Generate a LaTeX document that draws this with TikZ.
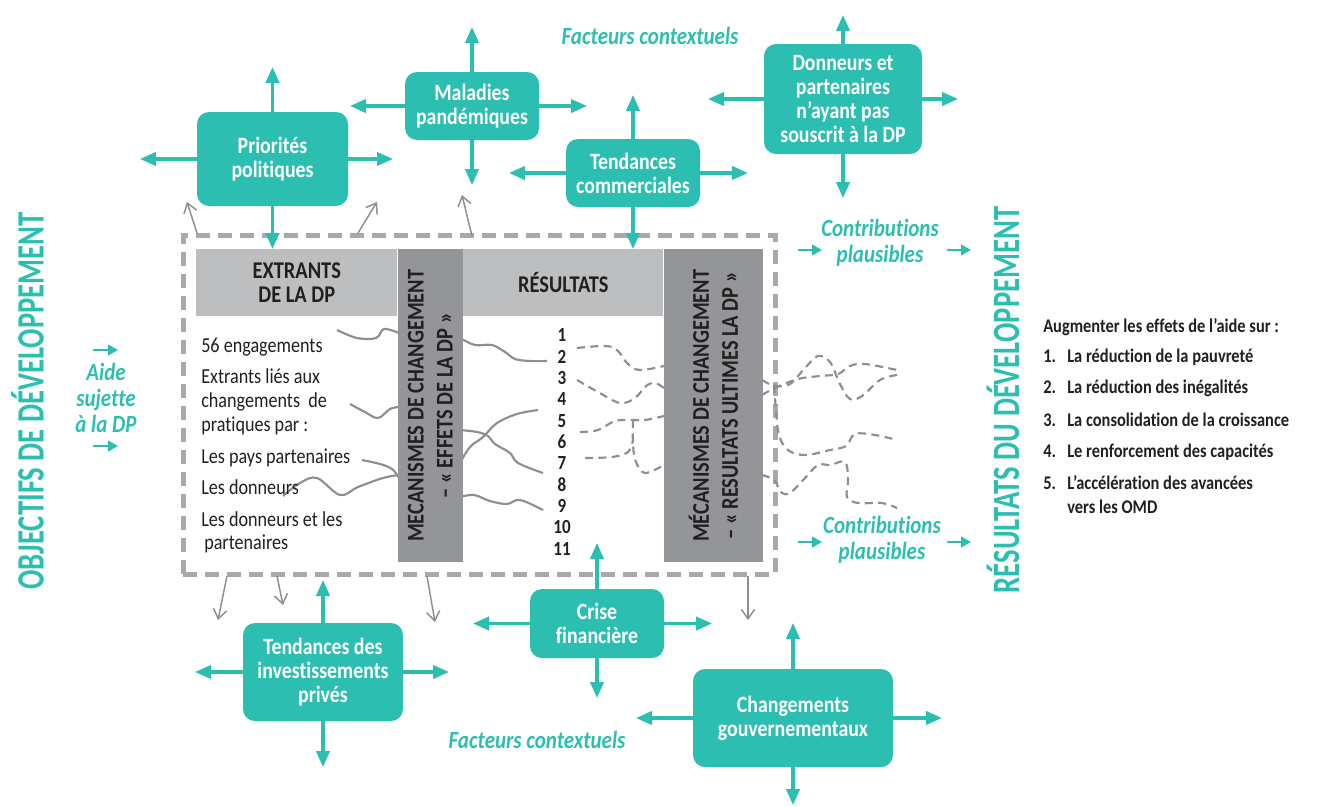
\documentclass[tikz,border=0pt]{standalone}
\usepackage{fontspec}
\setmainfont{Carlito}[FakeStretch=0.85, Ligatures=NoCommon]
\newfontfamily\titlefont{Carlito}[FakeStretch=0.74]
\usetikzlibrary{arrows.meta,positioning}

\definecolor{turq}{RGB}{44,191,177}
\definecolor{clair}{RGB}{188,190,192}
\definecolor{fonce}{RGB}{147,149,152}
\definecolor{cadregris}{RGB}{167,169,172}
\definecolor{fil}{RGB}{141,142,145}
\definecolor{encre}{RGB}{35,31,32}

\begin{document}
\begin{tikzpicture}[x=0.75pt, y=-0.75pt,
	facteur/.style={fill=turq, rounded corners=9pt, text=white, align=center, inner sep=2pt, font=\fontsize{17.5}{18}\selectfont\bfseries},
	fleche/.style={draw=turq, line width=2.3pt, -{Triangle[length=12pt,width=10pt]}},
	petite/.style={draw=turq, line width=1.6pt, -{Triangle[length=7.5pt,width=8pt]}},
	grise/.style={draw=fil, line width=1.1pt, -{Straight Barb[length=7pt,width=10pt]}},
	lien/.style={draw=fil, line width=1.6pt},
	tiret/.style={lien, dash pattern=on 6pt off 4pt},
	entete/.style={fill=clair, minimum height=50.25pt, anchor=north west, align=center, inner sep=0pt, text=encre, font=\fontsize{18}{18}\selectfont\bfseries},
	barre/.style={fill=fonce, minimum height=234.75pt, anchor=north west, inner sep=0pt},
	mecanisme/.style={rotate=90, align=center, text=encre, font=\fontsize{18}{21.75}\selectfont\bfseries},
	liste/.style={anchor=base west, inner sep=0pt, text=encre, font=\fontsize{16}{18}\selectfont},
	but/.style={anchor=base west, inner sep=0pt, text=encre, font=\fontsize{14.5}{16}\selectfont\bfseries},
	etiquette/.style={text=turq, align=center, inner sep=0pt, font=\fontsize{18.5}{19.5}\selectfont\bfseries\itshape},
	titre/.style={rotate=90, text=turq, inner sep=0pt, font=\titlefont\bfseries\fontsize{29}{30}\selectfont}]

	\useasboundingbox (0,0) rectangle (1325,807);

	% cadre de la DP
	\node[draw=cadregris, line width=3.75pt, dash pattern=on 10.5pt off 6pt, minimum width=444pt, minimum height=254.25pt, inner sep=0pt] (cadre) at (479,404.5) {};

	% liens entre extrants et resultats
	\draw[lien] plot[smooth, tension=0.6] coordinates {(337,330) (357,338) (376,338) (384,329) (399,333)};
	\draw[lien] plot[smooth, tension=0.6] coordinates {(350,404) (365,412) (378,418) (390,409) (399,407)};
	\draw[lien] plot[smooth, tension=0.6] coordinates {(362,460) (380,464) (392,469) (399,478)};
	\draw[lien] plot[smooth, tension=0.6] coordinates {(283,496) (300,483) (317,478) (340,495) (358,487) (383,478) (399,475)};
	\draw[lien] plot[smooth, tension=0.6] coordinates {(460,338) (475,345) (492,345) (505,352) (515,359) (530,361) (547,361)};
	\draw[lien] plot[smooth, tension=0.6] coordinates {(460,430) (477,432) (488,436) (495,444) (510,453) (518,463) (543,473)};
	\draw[lien] plot[smooth, tension=0.6] coordinates {(460,463) (470,447) (483,437) (497,423) (517,414) (538,410)};
	\draw[lien] plot[smooth, tension=0.6] coordinates {(460,497) (474,495) (490,501) (507,504) (520,500) (543,510)};

	\draw[tiret] plot[smooth, tension=0.6] coordinates {(577,348) (605,346) (617,350) (628,364) (640,370) (664,366)};
	\draw[tiret] plot[smooth, tension=0.6] coordinates {(577,380) (598,392) (620,403) (635,398) (646,386) (655,383) (664,388)};
	\draw[tiret] plot[smooth, tension=0.6] coordinates {(580,432) (598,430) (615,421) (632,420) (645,420) (664,416)};
	\draw[tiret] plot[smooth, tension=0.6] coordinates {(585,458) (612,457) (628,452) (633,440)};
	\draw[tiret] plot[smooth, tension=0.6] coordinates {(633,420) (633,445) (636,462) (645,473) (664,465)};

	\draw[tiret] plot[smooth, tension=0.6] coordinates {(762,380) (775,386) (790,384) (805,368) (818,356) (830,362) (840,384) (850,399) (862,396) (880,380) (897,375)};
	\draw[tiret] plot[smooth, tension=0.6] coordinates {(762,395) (775,388) (798,379) (820,376) (838,374) (850,366) (865,364) (897,370)};
	\draw[tiret] plot[smooth, tension=0.6] coordinates {(774,385) (776,410) (779,435) (788,450) (805,455) (830,450) (846,446) (855,434) (875,435) (897,440)};
	\draw[tiret] plot[smooth, tension=0.6] coordinates {(762,475) (774,480) (781,492) (790,493) (805,478) (818,465) (830,465) (845,462) (848,480) (847,497) (858,503) (882,503) (897,508)};

	% colonnes
	\node[entete, minimum width=150.75pt] (ext) at (196,249) {EXTRANTS\\DE LA DP};
	\node[barre, minimum width=48.75pt] (mec1) at (ext.north east) {};
	\node[entete, minimum width=150pt] (res) at (mec1.north east) {RÉSULTATS};
	\node[barre, minimum width=74.25pt] (mec2) at (res.north east) {};
	\node[mecanisme] (mectxt1) at (mec1.center) {MECANISMES DE CHANGEMENT\\– « EFFETS DE LA DP »};
	\node[mecanisme] (mectxt2) at (mec2.center) {MÉCANISMES DE CHANGEMENT\\– « RESULTATS ULTIMES LA DP »};

	\node[liste] (l1) at (201,352) {56 engagements};
	\node[liste] (l2) at (201,383) {Extrants liés aux};
	\node[liste] (l3) at (201,407) {changements~ de};
	\node[liste] (l4) at (201,431) {pratiques par :};
	\node[liste] (l5) at (201,463) {Les pays partenaires};
	\node[liste] (l6) at (201,494) {Les donneurs};
	\node[liste] (l7) at (201,526) {Les donneurs et les};
	\node[liste] (l8) at (204,549) {partenaires};

	\node[align=center, inner sep=0pt, text=encre, font=\fontsize{15}{16}\selectfont\bfseries] (num) at (562,442) {1\\2\\3\\4\\5\\6\\7\\8\\9\\10\\11};

	% facteurs contextuels
	\node[facteur, minimum width=113.25pt, minimum height=70.5pt] (pp) at (272.5,159) {Priorités\\politiques};
	\node[facteur, minimum width=100.5pt, minimum height=51pt] (mp) at (472,106) {Maladies\\pandémiques};
	\node[facteur, minimum width=100.5pt, minimum height=51pt] (tc) at (633,173) {Tendances\\commerciales};
	\node[facteur, minimum width=118.5pt, minimum height=82.5pt] (dp) at (843,99) {Donneurs et\\partenaires\\n’ayant pas\\souscrit à la DP};
	\node[facteur, minimum width=120pt, minimum height=73.5pt] (ti) at (323,672) {Tendances des\\investissements\\privés};
	\node[facteur, minimum width=100.5pt, minimum height=51.75pt] (cf) at (597,623.5) {Crise\\financière};
	\node[facteur, minimum width=150pt, minimum height=73.5pt] (cg) at (793,718) {Changements\\gouvernementaux};

	\coordinate (pp-n) at (272.5,67);
	\coordinate (pp-w) at (140,159);
	\coordinate (pp-e) at (393,159);
	\coordinate (mp-n) at (472,27);
	\coordinate (mp-w) at (350,106);
	\coordinate (mp-e) at (587,106);
	\coordinate (mp-s) at (472,185);
	\coordinate (tc-n) at (633,95);
	\coordinate (tc-w) at (509,173);
	\coordinate (tc-e) at (748,173);
	\coordinate (dp-n) at (843,15);
	\coordinate (dp-w) at (708,99);
	\coordinate (dp-e) at (958,99);
	\coordinate (dp-s) at (843,198);
	\coordinate (ti-n) at (323,580);
	\coordinate (ti-w) at (195,672);
	\coordinate (ti-e) at (449,672);
	\coordinate (ti-s) at (323,767);
	\coordinate (cf-n) at (597,543);
	\coordinate (cf-w) at (473,623.5);
	\coordinate (cf-e) at (712,623.5);
	\coordinate (cf-s) at (597,698);
	\coordinate (cg-n) at (793,623);
	\coordinate (cg-w) at (636,718);
	\coordinate (cg-e) at (942,718);
	\coordinate (cg-s) at (793,805);

	\draw[fleche] (pp) to (pp-n);
	\draw[fleche] (pp) to (pp-w);
	\draw[fleche] (pp) to (pp-e);
	\draw[fleche] (pp) to (ext.north -| pp);
	\draw[fleche] (mp) to (mp-n);
	\draw[fleche] (mp) to (mp-w);
	\draw[fleche] (mp) to (mp-e);
	\draw[fleche] (mp) to (mp-s);
	\draw[fleche] (tc) to (tc-n);
	\draw[fleche] (tc) to (tc-w);
	\draw[fleche] (tc) to (tc-e);
	\draw[fleche] (tc) to (res.north -| tc);
	\draw[fleche] (dp) to (dp-n);
	\draw[fleche] (dp) to (dp-w);
	\draw[fleche] (dp) to (dp-e);
	\draw[fleche] (dp) to (dp-s);
	\draw[fleche] (ti) to (ti-n);
	\draw[fleche] (ti) to (ti-w);
	\draw[fleche] (ti) to (ti-e);
	\draw[fleche] (ti) to (ti-s);
	\draw[fleche] (cf) to (cf-n);
	\draw[fleche] (cf) to (cf-w);
	\draw[fleche] (cf) to (cf-e);
	\draw[fleche] (cf) to (cf-s);
	\draw[fleche] (cg) to (cg-n);
	\draw[fleche] (cg) to (cg-w);
	\draw[fleche] (cg) to (cg-e);
	\draw[fleche] (cg) to (cg-s);

	% fleches grises hors du cadre
	\draw[grise] (197,233) coordinate (g1) -- (187,202) coordinate (g1b);
	\draw[grise] (358,233) coordinate (g2) -- (377,202) coordinate (g2b);
	\draw[grise] (472,236) coordinate (g3) -- (462,195) coordinate (g3b);
	\draw[grise] (227,576) coordinate (g4) -- (218,620) coordinate (g4b);
	\draw[grise] (277,576) coordinate (g5) -- (283,605) coordinate (g5b);
	\draw[grise] (427,576) coordinate (g6) -- (435,622) coordinate (g6b);
	\draw[grise] (748,576) coordinate (g7) -- (748,620) coordinate (g7b);

	% etiquettes
	\node[etiquette] (fc1) at (650,36) {Facteurs contextuels};
	\node[etiquette] (fc2) at (537,740) {Facteurs contextuels};
	\node[etiquette] (cp1) at (880,243) {Contributions\\plausibles};
	\node[etiquette] (cp2) at (882,540) {Contributions\\plausibles};
	\node[etiquette] (aide) at (106,398) {Aide\\sujette\\à la DP};
	\draw[petite] (798,250) coordinate (cp1a) -- (822,250) coordinate (cp1b);
	\draw[petite] (947,250) coordinate (cp1c) -- (971,250) coordinate (cp1d);
	\draw[petite] (798,542) coordinate (cp2a) -- (822,542) coordinate (cp2b);
	\draw[petite] (947,542) coordinate (cp2c) -- (971,542) coordinate (cp2d);
	\draw[petite] (93,350) coordinate (ai1) -- (118,350) coordinate (ai1b);
	\draw[petite] (93,446) coordinate (ai2) -- (118,446) coordinate (ai2b);

	\node[titre] (obj) at (27.5,401) {OBJECTIFS DE DÉVELOPPEMENT};
	\node[titre] (resdev) at (1003,400) {RÉSULTATS DU DÉVELOPPEMENT};

	% effets de l'aide
	\node[but] (augm) at (1043,332) {Augmenter les effets de l’aide sur :};
	\node[but] (n1) at (1043,362) {1.};
	\node[but] (t1) at (1067,362) {La réduction de la pauvreté};
	\node[but] (n2) at (1043,393) {2.};
	\node[but] (t2) at (1067,393) {La réduction des inégalités};
	\node[but] (n3) at (1043,426) {3.};
	\node[but] (t3) at (1067,426) {La consolidation de la croissance};
	\node[but] (n4) at (1043,457) {4.};
	\node[but] (t4) at (1067,457) {Le renforcement des capacités};
	\node[but] (n5) at (1043,489) {5.};
	\node[but] (t5) at (1067,489) {L’accélération des avancées};
	\node[but] (t5b) at (1067,513) {vers les OMD};

\end{tikzpicture}
\end{document}
